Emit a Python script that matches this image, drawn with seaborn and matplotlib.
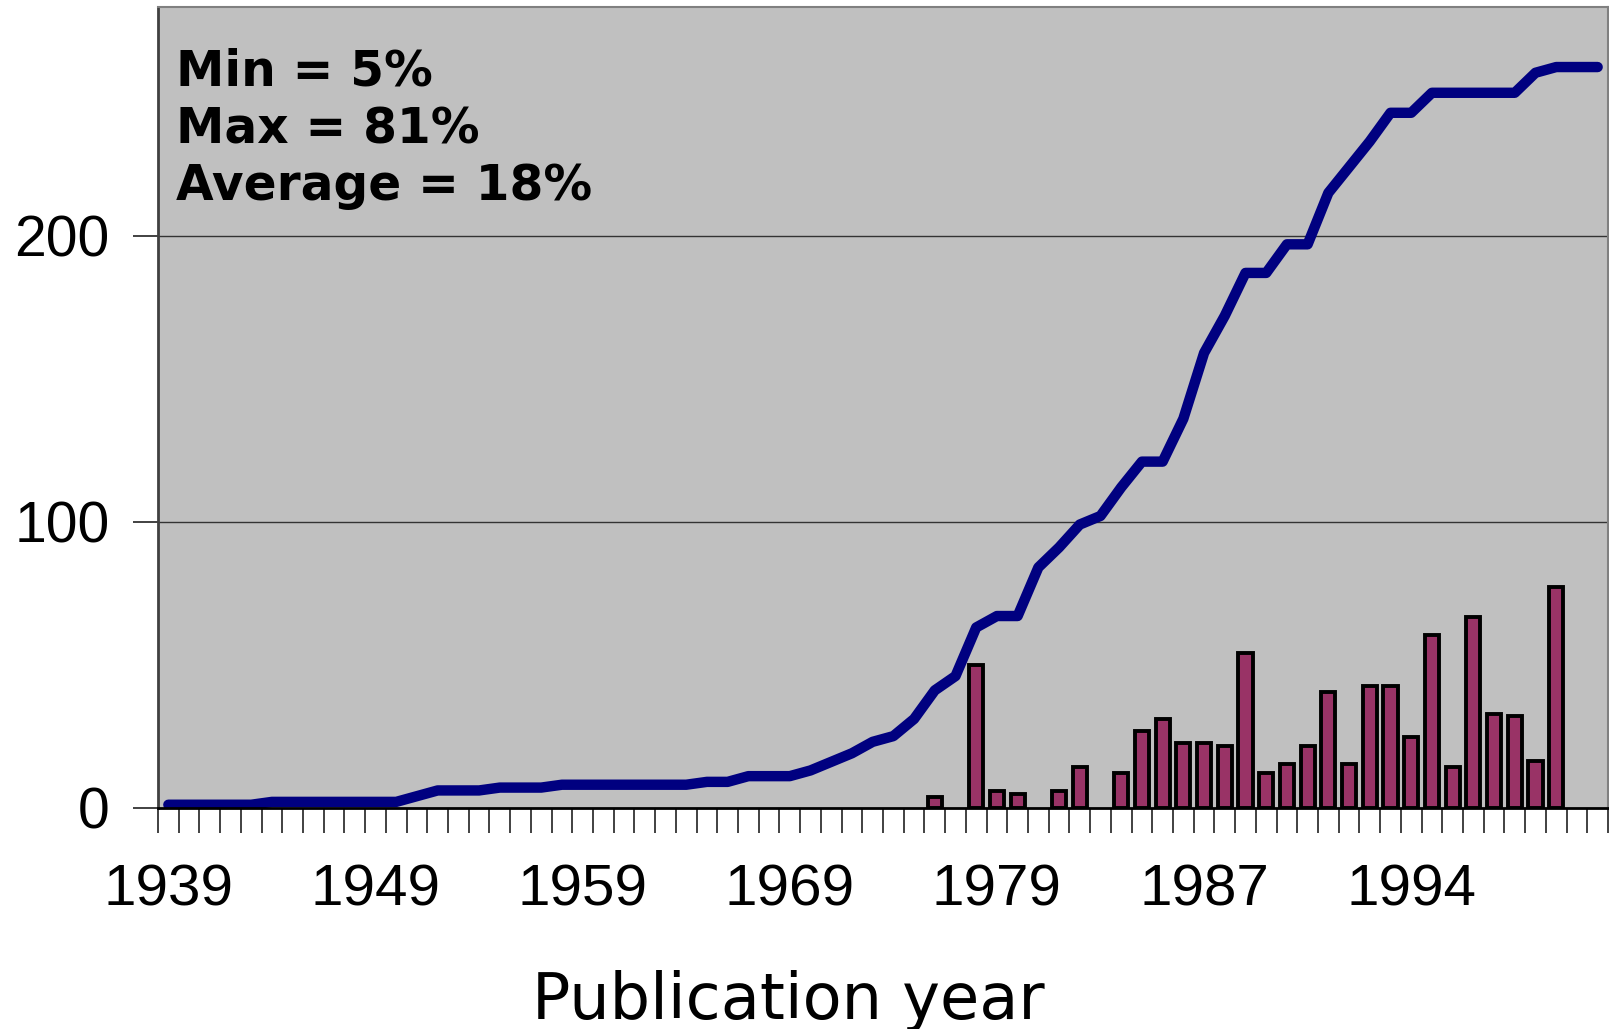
import matplotlib
matplotlib.use("Agg")
import matplotlib.pyplot as plt
import numpy as np
import pandas as pd
import seaborn as sns

#%% Data
# one category per slot on the x axis, only every 10th slot is labelled
tick_labels = ['1939', '1949', '1959', '1969', '1979', '1987', '1994']

# cumulative count (line)
cumulative = [1, 1, 1, 1, 1, 2, 2, 2, 2, 2,
              2, 2, 4, 6, 6, 6, 7, 7, 7, 8,
              8, 8, 8, 8, 8, 8, 9, 9, 11, 11,
              11, 13, 16, 19, 23, 25, 31, 41, 46, 63,
              67, 67, 84, 91, 99, 102, 112, 121, 121, 136,
              159, 172, 187, 187, 197, 197, 215, 224, 233, 243,
              243, 250, 250, 250, 250, 250, 257, 259, 259, 259]

# percentage per slot (bars), 0 = no bar
percent = [0, 0, 0, 0, 0, 0, 0, 0, 0, 0,
           0, 0, 0, 0, 0, 0, 0, 0, 0, 0,
           0, 0, 0, 0, 0, 0, 0, 0, 0, 0,
           0, 0, 0, 0, 0, 0, 0, 3.8, 0, 50,
           5.8, 4.7, 0, 5.8, 14.1, 0, 12.1, 26.8, 31.1, 22.6,
           22.6, 21.6, 54.2, 12.1, 15.1, 21.5, 40.4, 15.1, 42.5, 42.5,
           24.7, 60.4, 14.2, 66.7, 32.9, 32.1, 16.3, 77.3, 0, 0]

stats_lines = ['Min = 5%', 'Max = 81%', 'Average = 18%']

df = pd.DataFrame({'slot': np.arange(len(cumulative)),
                   'cumulative': cumulative,
                   'percent': percent})
bars = df[df['percent'] > 0]

#%% Figure
sns.set_style("white")
plt.rcParams['font.family'] = ['Liberation Sans', 'DejaVu Sans']
plt.rcParams['text.color'] = 'black'
plt.rcParams['xtick.color'] = 'black'
plt.rcParams['ytick.color'] = 'black'

fig = plt.figure(figsize=(16.09, 10.29), dpi=100)
ax = fig.add_axes([158 / 1609, 1 - 807.6 / 1029, 1450 / 1609, (807.6 - 7) / 1029])
ax.set_facecolor('#C0C0C0')

# bars, drawn on the same 0..69 slot positions as the line
sns.barplot(data=bars, x='slot', y='percent', order=list(range(len(percent))),
            color='#993366', saturation=1, width=0.68,
            edgecolor='black', linewidth=2.8, ax=ax, zorder=3)

sns.lineplot(data=df, x='slot', y='cumulative', color='#000080',
             linewidth=7.5, solid_capstyle='round', ax=ax, zorder=4)

ax.set_xlim(-0.5, len(cumulative) - 0.5)
ax.set_ylim(0, 280)

# gridlines at 100 and 200 only
for yv in (100, 200):
    ax.axhline(yv, color='#333333', linewidth=1.0, zorder=1)

ax.set_yticks([0, 100, 200])
ax.set_yticklabels(['0', '100', '200'], fontsize=41)
ax.tick_params(axis='y', length=18, width=1.3, color='#333333', pad=17, left=True,
               labelcolor='black')

ax.set_xticks(np.arange(0, len(cumulative), 10)[:len(tick_labels)])
ax.set_xticklabels(tick_labels, fontsize=42)
ax.set_xticks(np.arange(-0.5, len(cumulative), 1), minor=True)
ax.tick_params(axis='x', which='major', length=0, pad=40, labelcolor='black')
ax.tick_params(axis='x', which='minor', length=18, width=1.3, color='#333333',
               bottom=True)

ax.set_xlabel('')
ax.set_ylabel('')

for side in ('top', 'right'):
    ax.spines[side].set_color('#808080')
    ax.spines[side].set_linewidth(1.5)
ax.spines['left'].set_color('#404040')
ax.spines['left'].set_linewidth(2)
ax.spines['bottom'].set_color('black')
ax.spines['bottom'].set_linewidth(2)
ax.spines['bottom'].set_zorder(5)

# statistics text in the top left corner
for k, line in enumerate(stats_lines):
    fig.text(176 / 1609, 1 - (86 + 57 * k) / 1029, line, color='black',
             family='DejaVu Sans', fontweight='bold', fontsize=35,
             va='baseline', ha='left')

fig.text(788 / 1609, 1 - 1019 / 1029, 'Publication year', color='black',
         family='DejaVu Sans', fontsize=46, va='baseline', ha='center')

fig.savefig('out.png', dpi=100)
